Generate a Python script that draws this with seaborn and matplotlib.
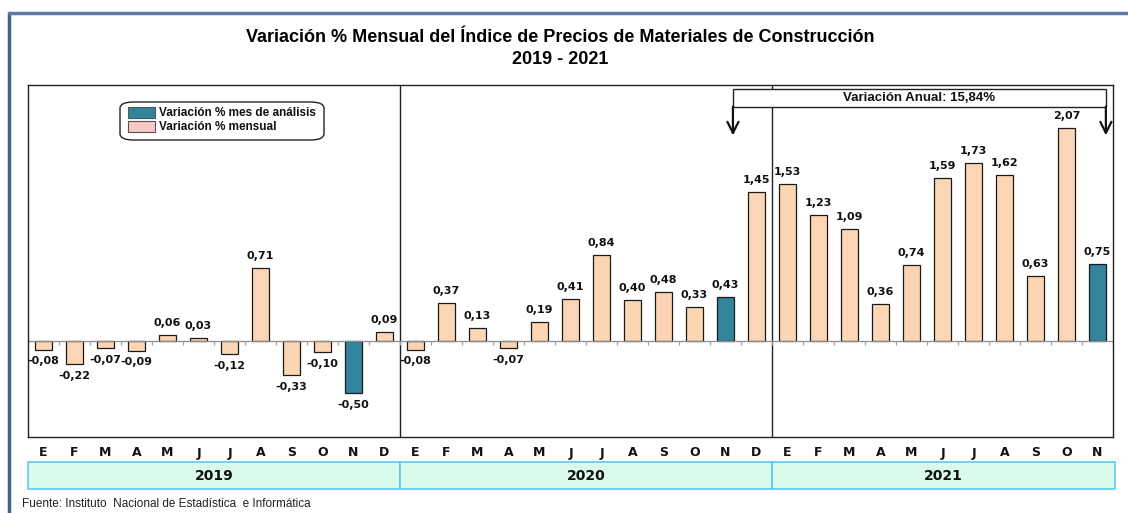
import numpy as np
import pandas as pd
import matplotlib
matplotlib.use("Agg")
import matplotlib.pyplot as plt
from matplotlib.patches import Rectangle, FancyBboxPatch
import matplotlib.transforms as mtransforms
import seaborn as sns

months = ["E", "F", "M", "A", "M", "J", "J", "A", "S", "O", "N", "D",
          "E", "F", "M", "A", "M", "J", "J", "A", "S", "O", "N", "D",
          "E", "F", "M", "A", "M", "J", "J", "A", "S", "O", "N"]
years = ["2019", "2020", "2021"]
year_counts = [12, 12, 11]
values = [-0.08, -0.22, -0.07, -0.09, 0.06, 0.03, -0.12, 0.71, -0.33, -0.10, -0.50, 0.09,
          -0.08, 0.37, 0.13, -0.07, 0.19, 0.41, 0.84, 0.40, 0.48, 0.33, 0.43, 1.45,
          1.53, 1.23, 1.09, 0.36, 0.74, 1.59, 1.73, 1.62, 0.63, 2.07, 0.75]
highlight_idx = [10, 22, 34]
series_names = ["Variación % mes de análisis", "Variación % mensual"]
annual_text = "Variación Anual: 15,84%"
title = "Variación % Mensual del Índice de Precios de Materiales de Construcción\n2019 - 2021"
source = "Fuente: Instituto  Nacional de Estadística  e Informática"

PEACH = "#fcd5b4"
TEAL = "#31849b"

sns.set_theme(style="white")
plt.rcParams['font.family'] = ['Liberation Sans', 'DejaVu Sans']
plt.rcParams['text.color'] = '#111111'

n = len(values)
df = pd.DataFrame({
    "pos": [str(i) for i in range(n)],
    "val": values,
    "serie": [series_names[0] if i in highlight_idx else series_names[1] for i in range(n)],
})

W, H = 1128, 513
fig = plt.figure(figsize=(W / 100, H / 100), dpi=100)
ax = fig.add_axes([28 / W, 1 - 437 / H, (1113 - 28) / W, (437 - 85) / H])

sns.barplot(data=df, x="pos", y="val", hue="serie", order=[str(i) for i in range(n)],
            palette={series_names[0]: TEAL, series_names[1]: PEACH},
            dodge=False, width=0.58, edgecolor="#1a1a1a", linewidth=0.9,
            legend=False, ax=ax, saturation=1)

ax.set_xlim(-0.5, n - 0.5)
ax.set_ylim(-0.93, 2.49)
ax.set_xticks([])
ax.set_yticks([])
ax.set_xlabel("")
ax.set_ylabel("")
for s in ax.spines.values():
    s.set_color("#222222")
    s.set_linewidth(1.0)

# zero line and small ticks
ax.axhline(0, color="#8c8c8c", lw=0.9, zorder=1)
ax.vlines(np.arange(-0.5, n), -0.04, 0, color="#a0a0a0", lw=0.9, zorder=1)

# year separators
cum = np.cumsum(year_counts)
for c in cum[:-1]:
    ax.axvline(c - 0.5, color="#222222", lw=1.0, zorder=0)

# value labels
for i, v in enumerate(values):
    lab = f"{v:.2f}".replace(".", ",")
    if v >= 0:
        ax.annotate(lab, (i, v), xytext=(0, 5), textcoords="offset points",
                    ha="center", va="bottom", fontsize=8, fontweight="bold",
                    family="DejaVu Sans", color="#111111")
    else:
        ax.annotate(lab, (i, v), xytext=(0, -5), textcoords="offset points",
                    ha="center", va="top", fontsize=8, fontweight="bold",
                    family="DejaVu Sans", color="#111111")

# month labels and year boxes below
trans = mtransforms.blended_transform_factory(ax.transData, fig.transFigure)
for i, m in enumerate(months):
    ax.text(i, 1 - 453 / H, m, transform=trans, ha="center", va="center",
            fontsize=9, fontweight="bold", family="DejaVu Sans", color="#111111")
start = 0
for y, c in zip(years, year_counts):
    x0 = start - 0.5
    x1 = start + c - 0.5
    if y == years[-1]:
        x1 = start + c - 0.5 + 0.05
    rect = Rectangle((x0, 1 - 489 / H), x1 - x0, 27 / H, transform=trans,
                     facecolor="#dafbe9", edgecolor="#5cc8f0", lw=1.2, clip_on=False, zorder=3)
    ax.add_patch(rect)
    ax.text((x0 + x1) / 2, 1 - 476 / H, y, transform=trans, ha="center", va="center",
            fontsize=10, fontweight="bold", family="DejaVu Sans", color="#111111", zorder=4)
    start += c

# title and source
fig.text(0.497, 1 - 38 / H, title.split("\n")[0], ha="center", va="center",
         fontsize=13, fontweight="bold", color="black")
fig.text(0.497, 1 - 60 / H, title.split("\n")[1], ha="center", va="center",
         fontsize=13, fontweight="bold", color="black")
fig.text(22 / W, 1 - 504 / H, source, ha="left", va="center", fontsize=8.5, color="#222222")

# outer frame (left and top blue)
fig.add_artist(plt.Line2D([9 / W, 9 / W], [0, 1 - 13 / H], transform=fig.transFigure,
                          color="#3f6196", lw=2.5))
fig.add_artist(plt.Line2D([9 / W, 1], [1 - 13 / H, 1 - 13 / H], transform=fig.transFigure,
                          color="#5d7aa6", lw=2.5))

# legend box
leg_box = FancyBboxPatch((120 / W, 1 - 140 / H), 204 / W, 38 / H,
                         boxstyle="round,pad=0,rounding_size=0.012",
                         transform=fig.transFigure, facecolor="white",
                         edgecolor="#222222", lw=1.0)
fig.add_artist(leg_box)
for k, (name, col) in enumerate(zip(series_names, [TEAL, "#f8c8c8"])):
    yc = 1 - (113 + k * 14) / H
    fig.add_artist(Rectangle((128 / W, yc - 5 / H), 27 / W, 11 / H, transform=fig.transFigure,
                             facecolor=col, edgecolor="#555555", lw=0.8))
    fig.text(159 / W, yc, name, ha="left", va="center", fontsize=8.5,
             fontweight="bold", color="#111111")

# annual variation bracket
xl, xr = 22.24, 34.27
ax.add_patch(Rectangle((xl, 2.28), xr - xl, 0.175, facecolor="white", edgecolor="#222222",
                       lw=1.0, clip_on=False, zorder=5))
ax.text((xl + xr) / 2, 2.365, annual_text, ha="center", va="center", fontsize=9.5,
        fontweight="bold", zorder=6)
for xa in (xl, xr):
    ax.annotate("", xy=(xa, 2.0), xytext=(xa, 2.28), annotation_clip=False,
                arrowprops=dict(arrowstyle="->", color="#111111", lw=1.6,
                                mutation_scale=20, shrinkA=0, shrinkB=0), zorder=6)

fig.savefig("out.png", dpi=100)
